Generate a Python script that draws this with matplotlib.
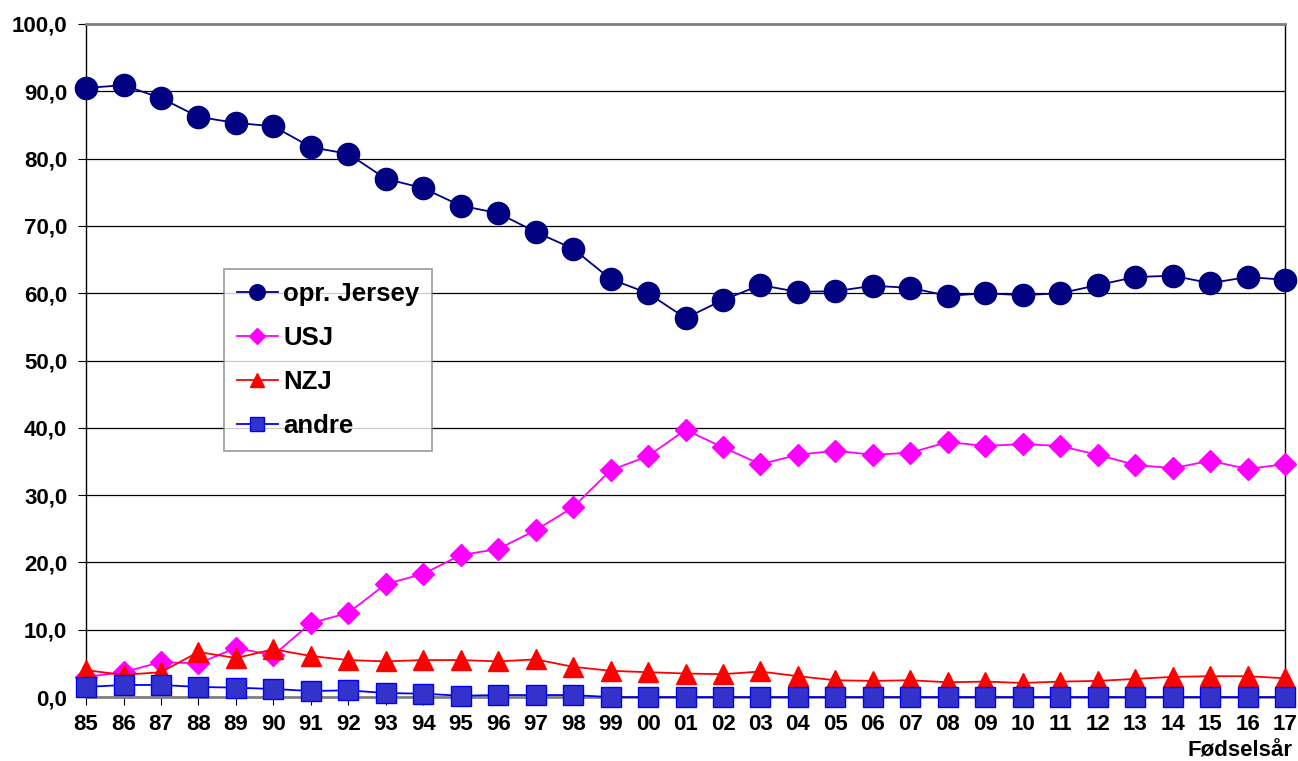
import matplotlib.pyplot as plt
from matplotlib.ticker import FuncFormatter

plt.rcParams["font.family"] = ["Liberation Sans", "DejaVu Sans"]
plt.rcParams["font.weight"] = "bold"

years = ["85", "86", "87", "88", "89", "90", "91", "92", "93", "94", "95",
         "96", "97", "98", "99", "00", "01", "02", "03", "04", "05", "06",
         "07", "08", "09", "10", "11", "12", "13", "14", "15", "16", "17"]

opr_jersey = [90.5, 90.9, 89.0, 86.2, 85.3, 84.8, 81.7, 80.7, 77.0, 75.6, 73.0,
              71.9, 69.1, 66.6, 62.1, 60.0, 56.3, 59.0, 61.2, 60.2, 60.3, 61.1,
              60.8, 59.6, 60.0, 59.7, 60.0, 61.2, 62.4, 62.6, 61.5, 62.4, 62.0]
usj = [3.0, 3.7, 5.2, 5.0, 7.3, 6.2, 11.0, 12.5, 16.8, 18.3, 21.1,
       22.0, 24.8, 28.2, 33.7, 35.8, 39.7, 37.1, 34.6, 36.0, 36.6, 36.0,
       36.3, 37.9, 37.3, 37.6, 37.3, 36.0, 34.5, 34.0, 35.1, 33.9, 34.6]
nzj = [4.0, 3.3, 3.7, 6.7, 5.8, 7.1, 6.1, 5.5, 5.3, 5.5, 5.5,
       5.3, 5.6, 4.5, 3.9, 3.7, 3.5, 3.4, 3.8, 3.1, 2.5, 2.4,
       2.5, 2.2, 2.3, 2.1, 2.3, 2.4, 2.7, 3.0, 3.1, 3.1, 2.8]
andre = [1.5, 1.8, 1.8, 1.5, 1.4, 1.2, 0.9, 1.0, 0.6, 0.5, 0.2,
         0.3, 0.3, 0.3, 0.0, 0.0, 0.0, 0.0, 0.0, 0.0, 0.0, 0.0,
         0.0, 0.0, 0.0, 0.0, 0.0, 0.0, 0.0, 0.0, 0.0, 0.0, 0.0]

fig = plt.figure(figsize=(12.98, 7.61), dpi=100)
ax = fig.add_axes([0.0663, 0.084, 0.9237, 0.8845])

x = range(len(years))
ax.plot(x, opr_jersey, color="#000080", marker="o", markersize=16, lw=1.3,
        label="opr. Jersey", clip_on=False, zorder=5)
ax.plot(x, usj, color="#FF00FF", marker="D", markersize=11, lw=1.3,
        label="USJ", clip_on=False, zorder=4)
ax.plot(x, nzj, color="#FF0000", marker="^", markersize=15, lw=1.3,
        label="NZJ", clip_on=False, zorder=5)
ax.plot(x, andre, color="#0000FF", marker="s", markersize=14, lw=1.3,
        markerfacecolor="#3333CC", markeredgecolor="#0000FF",
        label="andre", clip_on=False, zorder=6)

ax.set_xlim(0, len(years) - 1)
ax.set_ylim(0, 100)
ax.set_xticks(list(x))
ax.set_xticklabels(years)
ax.set_yticks(range(0, 101, 10))
ax.yaxis.set_major_formatter(FuncFormatter(lambda v, p: f"{v:.1f}".replace(".", ",")))
ax.tick_params(axis="both", labelsize=16, length=5.5, color="black")
ax.tick_params(axis="x", pad=7)
ax.tick_params(axis="y", pad=8)
for lbl in ax.get_xticklabels() + ax.get_yticklabels():
    lbl.set_fontweight("bold")

ax.yaxis.grid(True, color="black", lw=0.9)
ax.set_axisbelow(True)
for s in ["left", "right"]:
    ax.spines[s].set_color("black")
    ax.spines[s].set_linewidth(1.0)
for s in ["top", "bottom"]:
    ax.spines[s].set_color("#808080")
    ax.spines[s].set_linewidth(2)

leg = ax.legend(loc="upper left", bbox_to_anchor=(0.115, 0.636), fontsize=18.5,
                frameon=True, fancybox=False, edgecolor="#808080",
                handlelength=1.6, handletextpad=0.2, labelspacing=0.78,
                borderpad=0.5, borderaxespad=0, markerscale=0.7)
leg.get_frame().set_linewidth(1.2)
for t in leg.get_texts():
    t.set_fontweight("bold")
leg.set_zorder(10)

fig.text(0.996, 0.006, "Fødselsår", ha="right", va="baseline", fontsize=16,
         fontweight="bold")

fig.savefig("out.png", dpi=100)
